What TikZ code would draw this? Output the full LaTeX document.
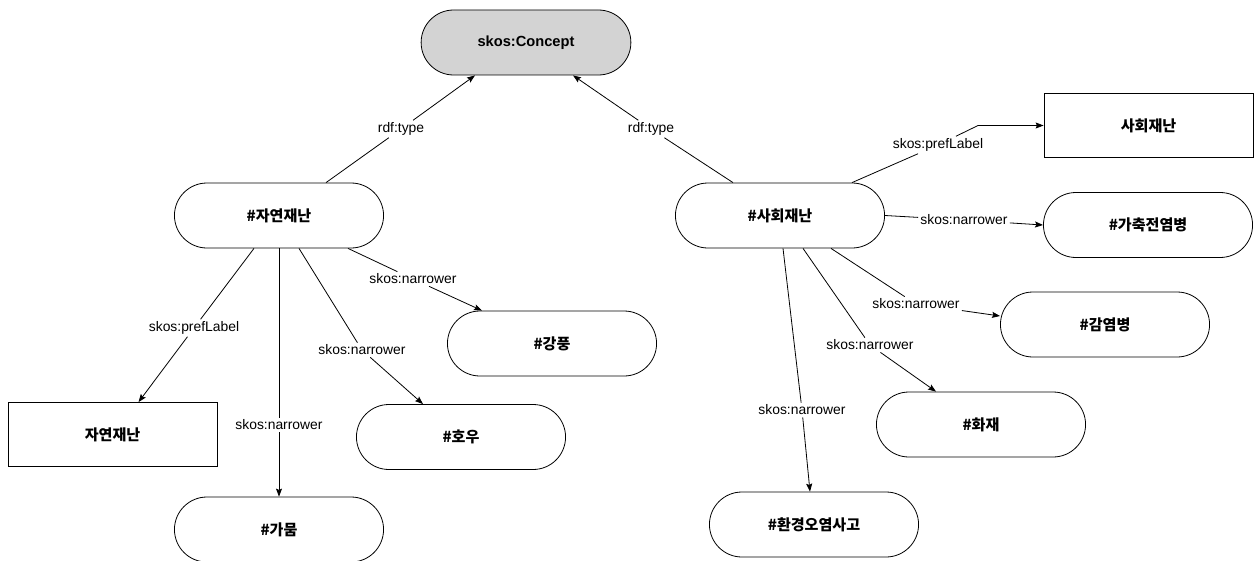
\documentclass[tikz,border=0pt]{standalone}
\usepackage{fontspec}
\setmainfont{Liberation Sans}
\newfontfamily\krfont{Noto Sans CJK KR}
\usetikzlibrary{shapes.misc,arrows.meta,calc}
\definecolor{conceptgray}{RGB}{211,211,211}
\begin{document}
\begin{tikzpicture}[
  x=0.75pt, y=-0.75pt,
  res/.style={draw, line width=0.6pt, rounded rectangle, minimum width=163.5pt, minimum height=48.75pt, font=\krfont\fontsize{11.3}{13}\selectfont\bfseries},
  lit/.style={draw, line width=0.6pt, rectangle, minimum width=156.75pt, minimum height=48pt, font=\krfont\fontsize{11.3}{13}\selectfont\bfseries},
  prop/.style={fill=white, inner sep=1.5pt, font=\fontsize{10.4}{12}\selectfont},
  rel/.style={-{Stealth[length=6pt,width=4.5pt,inset=1pt]}, line width=0.6pt}
]
\useasboundingbox (0,0) rectangle (1255,560);

\node[res, fill=conceptgray, minimum width=164pt, font=\fontsize{11}{13}\selectfont\bfseries] (concept) at (526,42.5) {skos:Concept};
\node[res] (nat) at (279,215.5) {\#자연재난};
\node[res] (soc) at (780,215.5) {\#사회재난};
\node[lit] (socname) at (1148.5,125.5) {사회재난};
\node[res] (livestock) at (1148,225) {\#가축전염병};
\node[res] (infection) at (1105,324.5) {\#감염병};
\node[res] (fire) at (981,424.5) {\#화재};
\node[res] (pollution) at (814,524.5) {\#환경오염사고};
\node[res] (wind) at (552,343.5) {\#강풍};
\node[res] (rain) at (461,437) {\#호우};
\node[lit] (natname) at (112.5,434.5) {자연재난};
\node[res] (drought) at (279,529.5) {\#가뭄};

\node[prop] (tnat) at (401,129) {rdf:type};
\node[prop] (tsoc) at (651,129) {rdf:type};
\node[prop] (pnat) at (194,328) {skos:prefLabel};
\node[prop] (psoc) at (938,145) {skos:prefLabel};
\foreach \nm/\px/\py in {nlive/964/220, ninf/916/304, nfire/870/345, npol/802/410, nwind/413/279, nrain/362/350, ndry/279/425}
  \node[prop] (\nm) at (\px,\py) {skos:narrower};
\coordinate (kink) at (978,125.5);

\draw[rel] ($(nat.north)+(47,0)$) -- (tnat) -- ($(concept.south)+(-51,0)$);
\draw[rel] ($(soc.north)+(-47,0)$) -- (tsoc) -- ($(concept.south)+(47,0)$);
\draw[rel] ($(soc.north)+(72,0)$) -- (psoc) -- (kink) -- (socname.west);
\draw[rel] (soc.east) -- (nlive) -- (livestock.west);
\draw[rel] ($(soc.south)+(51,0)$) -- (ninf) -- ($(infection.west)+(0,-8.5)$);
\draw[rel] ($(soc.south)+(23,0)$) -- (nfire) -- ($(fire.north)+(-45,0)$);
\draw[rel] ($(soc.south)+(3,0)$) -- (npol) -- ($(pollution.north)+(-4,0)$);
\draw[rel] ($(nat.south)+(-25,0)$) -- (pnat) -- ($(natname.north)+(26,0)$);
\draw[rel] ($(nat.south)+(69,0)$) -- (nwind) -- ($(wind.north)+(-70,0)$);
\draw[rel] ($(nat.south)+(20,0)$) -- (nrain) -- ($(rain.north)+(-38,0)$);
\draw[rel] (nat.south) -- (ndry) -- (drought.north);
\end{tikzpicture}
\end{document}
